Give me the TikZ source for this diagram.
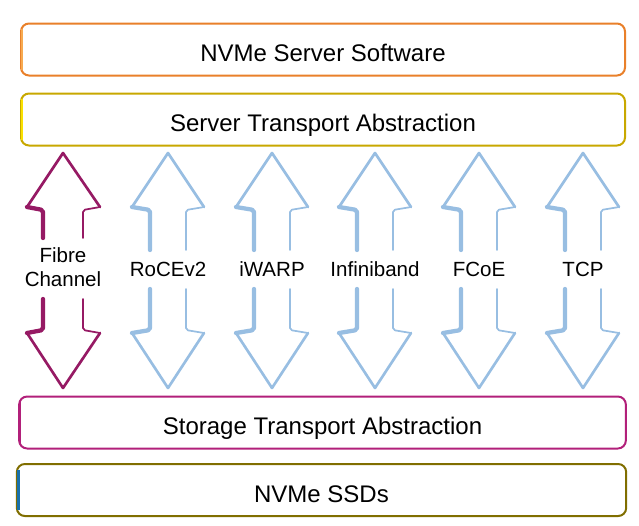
\documentclass[tikz,border=0pt]{standalone}
\usepackage{fontspec}
\setmainfont{Liberation Sans}
\definecolor{swOrange}{RGB}{233,128,42}
\definecolor{swOrangeL}{RGB}{247,170,80}
\definecolor{stGold}{RGB}{200,168,0}
\definecolor{stYellow}{RGB}{250,225,0}
\definecolor{saMagenta}{RGB}{178,32,122}
\definecolor{ssdOlive}{RGB}{128,110,0}
\definecolor{ssdBlue}{RGB}{25,112,170}
\definecolor{fcPurple}{RGB}{150,26,100}
\definecolor{netBlue}{RGB}{152,190,226}
\tikzset{
  layerbox/.style={draw, rectangle, rounded corners=6pt, line width=1.5pt, fill=white,
    minimum width=453pt, minimum height=39pt, inner sep=0pt,
    text height=19.5pt, text depth=1.5pt, font=\fontsize{18pt}{21pt}\selectfont},
  lbl/.style={inner sep=0pt, fill=white, font=\fontsize{15.4pt}{17.8pt}\selectfont},
  thickside/.style={line width=3.2pt, line join=round, line cap=round, rounded corners=1.5pt},
  thinside/.style={line width=1.3pt, line join=round, line cap=round, rounded corners=1.5pt},
  headside/.style={line width=2pt, line join=round, line cap=round},
}
\begin{document}
\begin{tikzpicture}[x=0.75pt,y=0.75pt,yscale=-1,xscale=1]
\useasboundingbox (0,0) rectangle (639,525);

%Layers
\node[layerbox, draw=swOrange] (sw) at (323,49.5) {NVMe Server Software};
\node[layerbox, draw=stGold] (st) at (323,119.5) {Server Transport Abstraction};
\node[layerbox, draw=saMagenta, minimum width=455pt] (sa) at (322.5,422.5) {Storage Transport Abstraction};
\node[layerbox, draw=ssdOlive, minimum width=457pt] (ssd) at (321.5,490) {NVMe SSDs};
%left edges
\draw[swOrangeL, line width=1.6pt] ([xshift=1.4pt,yshift=5pt]sw.north west) -- ([xshift=1.4pt,yshift=-5pt]sw.south west);
\draw[stYellow, line width=1.6pt] ([xshift=1.4pt,yshift=5pt]st.north west) -- ([xshift=1.4pt,yshift=-5pt]st.south west);
\draw[saMagenta, line width=1.2pt] ([xshift=1.2pt,yshift=5pt]sa.north west) -- ([xshift=1.2pt,yshift=-5pt]sa.south west);
\draw[ssdBlue, line width=2.2pt] ([xshift=1.8pt,yshift=5pt]ssd.north west) -- ([xshift=1.8pt,yshift=-5pt]ssd.south west);

%Fibre Channel arrow
\draw[headside, fcPurple] (27,207) -- (63,153) -- (100,207);
\draw[headside, fcPurple] (27,333) -- (63,388) -- (100,333);
\draw[thickside, fcPurple] (43,238) -- (43,210) -- (27,207);
\draw[thinside, fcPurple] (100,207) -- (83,210) -- (83,238);
\draw[thickside, fcPurple] (43,299) -- (43,330) -- (27,333);
\draw[thinside, fcPurple] (100,333) -- (83,330) -- (83,299);
\node[lbl, align=center] (fc) at (63,267.5) {Fibre\\Channel};

%Network arrows
\foreach \c/\lab/\nm in {168/RoCEv2/roce, 272/iWARP/iwarp, 375/Infiniband/ib, 479/FCoE/fcoe, 583/TCP/tcp} {
  \draw[headside, netBlue] (\c-36,207) -- (\c,153) -- (\c+36,207);
  \draw[headside, netBlue] (\c-36,333) -- (\c,388) -- (\c+36,333);
  \draw[thickside, netBlue] (\c-18,250) -- (\c-18,210) -- (\c-36,207);
  \draw[thinside, netBlue] (\c+36,207) -- (\c+18,210) -- (\c+18,250);
  \draw[thickside, netBlue] (\c-18,289) -- (\c-18,330) -- (\c-36,333);
  \draw[thinside, netBlue] (\c+36,333) -- (\c+18,330) -- (\c+18,289);
  \node[lbl, anchor=base] (\nm) at (\c,276.7) {\lab};
}

\end{tikzpicture}
\end{document}
